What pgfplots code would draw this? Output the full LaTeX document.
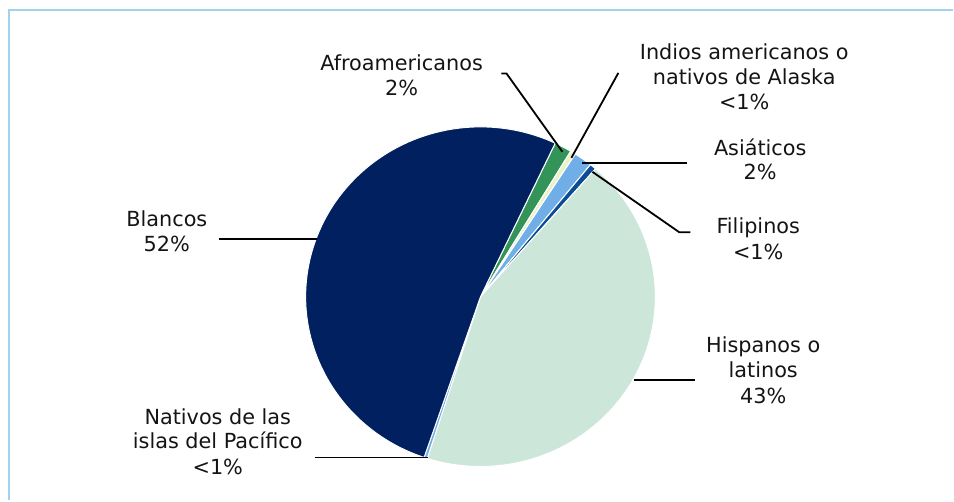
\documentclass[border=0pt]{standalone}
\usepackage{pgfplots}
\pgfplotsset{compat=1.18}
\usepackage{pgfplotstable}
\usepackage{fontspec}
\setmainfont{DejaVu Sans}
\definecolor{cBlan}{RGB}{0,32,96}
\definecolor{cAfro}{RGB}{51,148,90}
\definecolor{cIndios}{RGB}{236,242,200}
\definecolor{cAsia}{RGB}{111,174,230}
\definecolor{cFili}{RGB}{10,76,149}
\definecolor{cHisp}{RGB}{204,230,218}
\definecolor{cNat}{RGB}{111,174,230}
\definecolor{cFrame}{RGB}{160,210,236}
\definecolor{cText}{RGB}{20,20,20}

% slices clockwise, starting at the Blancos/Afroamericanos boundary
\pgfplotstableread{
label value color
Afroamericanos 1.6 cAfro
Indios 0.5 cIndios
Asiaticos 1.7 cAsia
Filipinos 0.6 cFili
Hispanos 43.5 cHisp
Nativos 0.3 cNat
Blancos 51.8 cBlan
}\piedata

\begin{document}
\begin{tikzpicture}[every node/.style={font=\fontsize{20.8bp}{25bp}\selectfont, inner sep=0pt, text=cText}]
\xdef\acc{64.7}
\foreach \i in {0,...,6}{
  \pgfplotstablegetelem{\i}{value}\of\piedata
  \pgfmathsetmacro\e{\acc-3.6*\pgfplotsretval}
  \expandafter\xdef\csname sA\i\endcsname{\acc}
  \expandafter\xdef\csname sE\i\endcsname{\e}
  \pgfplotstablegetelem{\i}{color}\of\piedata
  \expandafter\xdef\csname sC\i\endcsname{\pgfplotsretval}
  \xdef\acc{\e}
}
\begin{axis}[width=954bp,height=501bp,scale only axis,hide axis,
  xmin=0,xmax=954,ymin=0,ymax=501,y dir=reverse,clip=false,enlargelimits=false]
\path (axis cs:0,0) (axis cs:954,501);
\pgfplotsinvokeforeach{0,...,6}{
  \edef\tmp{\noexpand\filldraw[fill=\csname sC#1\endcsname,draw=white,line width=1bp]
    (axis cs:481,297) -- ++(\csname sA#1\endcsname:175bp and 170bp)
    arc[start angle=\csname sA#1\endcsname,end angle=\csname sE#1\endcsname,x radius=175bp,y radius=170bp] -- cycle;}
  \tmp
}
% frame
\draw[cFrame,line width=2bp] (axis cs:9,501) -- (axis cs:9,10) -- (axis cs:954,10);
% leader lines
\begin{scope}[black,line width=1.8bp]
\draw (axis cs:502,73.5) -- (axis cs:507,73.5) -- (axis cs:563,152);
\draw (axis cs:619,73) -- (axis cs:572,158);
\draw (axis cs:583,163.5) -- (axis cs:688,163.5);
\draw (axis cs:593,172) -- (axis cs:680,232.5) -- (axis cs:691,232.5);
\draw (axis cs:219,239) -- (axis cs:317,239);
\draw (axis cs:635,380) -- (axis cs:696,380);
\draw (axis cs:315,458) -- (axis cs:428,458);
\end{scope}
% labels
\node[anchor=base] at (axis cs:402,71) {Afroamericanos};
\node[anchor=base] at (axis cs:402,96) {2\%};
\node[anchor=base] at (axis cs:745,60) {Indios americanos o};
\node[anchor=base] at (axis cs:745,85) {nativos de Alaska};
\node[anchor=base] at (axis cs:745,110) {<1\%};
\node[anchor=base] at (axis cs:761,156) {Asiáticos};
\node[anchor=base] at (axis cs:761,180) {2\%};
\node[anchor=base] at (axis cs:759,234) {Filipinos};
\node[anchor=base] at (axis cs:759,260) {<1\%};
\node[anchor=base] at (axis cs:167,227) {Blancos};
\node[anchor=base] at (axis cs:167,252) {52\%};
\node[anchor=base] at (axis cs:764,353) {Hispanos o};
\node[anchor=base] at (axis cs:764,378) {latinos};
\node[anchor=base] at (axis cs:764,404) {43\%};
\node[anchor=base] at (axis cs:218,425) {Nativos de las};
\node[anchor=base] at (axis cs:218,449) {islas del Pacífico};
\node[anchor=base] at (axis cs:218,475) {<1\%};
\end{axis}
\end{tikzpicture}
\end{document}
